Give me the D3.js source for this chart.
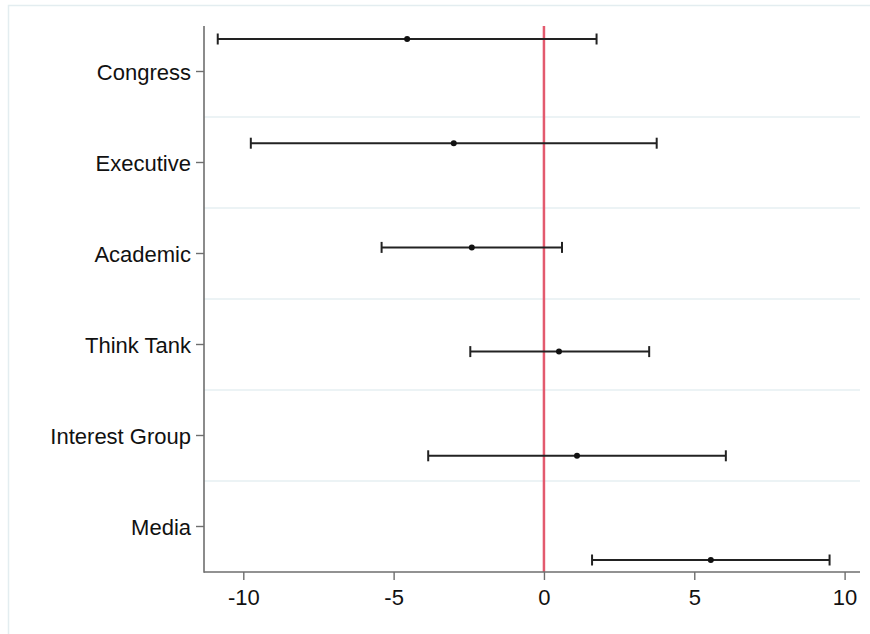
<!DOCTYPE html>
<html>
<head>
<meta charset="utf-8">
<script src="https://cdn.jsdelivr.net/npm/d3@7"></script>
<style>
  body { margin: 0; background: #fff; }
  text { font-family: "Liberation Sans", Arial, Helvetica, sans-serif; fill: #111; }
</style>
</head>
<body>
<div id="chart"></div>
<script>
var width  = 870,
    height = 634;

// coefficient estimates with 95% intervals
var categories = ["Congress", "Executive", "Academic", "Think Tank", "Interest Group", "Media"];
var estimates  = [-4.55, -3.0, -2.4, 0.5, 1.1, 5.55];
var lower      = [-10.85, -9.75, -5.4, -2.45, -3.85, 1.6];
var upper      = [1.75, 3.75, 0.6, 3.5, 6.05, 9.5];
var xTicks     = [-10, -5, 0, 5, 10];

var rows = categories.map(function(c, i) {
    return { name: c, est: estimates[i], lo: lower[i], hi: upper[i] };
});

var plotLeft = 204, plotRight = 860, plotTop = 26, plotBottom = 572;

var x = d3.scaleLinear()
    .domain([-10, 10])
    .range([243.3, 844.6]);

var yBand = d3.scaleBand()
    .domain(categories)
    .range([plotTop, plotBottom])
    .padding(0);

var yPoint = d3.scalePoint()
    .domain(categories)
    .range([plotTop + 13, plotBottom - 12]);

var svg = d3.select("#chart")
    .append("svg")
    .attr("width", width)
    .attr("height", height);

// outer graph frame
svg.append("rect")
    .attr("x", 8.5)
    .attr("y", 5.5)
    .attr("width", 900)
    .attr("height", 700)
    .attr("fill", "none")
    .attr("stroke", "#e3edf0")
    .attr("stroke-width", 1.5);

// separators between categories
svg.append("g").selectAll("line")
    .data(categories.slice(1))
    .enter().append("line")
    .attr("x1", plotLeft)
    .attr("x2", plotRight)
    .attr("y1", function(d) { return yBand(d); })
    .attr("y2", function(d) { return yBand(d); })
    .attr("stroke", "#e6eff2")
    .attr("stroke-width", 1.5);

// reference line at zero
svg.append("line")
    .attr("x1", x(0))
    .attr("x2", x(0))
    .attr("y1", plotTop)
    .attr("y2", plotBottom)
    .attr("stroke", "#e35a6e")
    .attr("stroke-width", 2.5);

// x axis
var xAxis = d3.axisBottom(x)
    .tickValues(xTicks)
    .tickSize(8)
    .tickPadding(9)
    .tickFormat(d3.format("d"));

var gx = svg.append("g")
    .attr("transform", "translate(0," + plotBottom + ")")
    .call(xAxis);
gx.select(".domain").remove();
gx.append("line")
    .attr("x1", plotLeft)
    .attr("x2", plotRight)
    .attr("stroke", "#6e6e6e")
    .attr("stroke-width", 1.6);
gx.selectAll(".tick line").attr("stroke", "#6e6e6e").attr("stroke-width", 1.4);
gx.selectAll(".tick text")
    .style("font-size", "22px")
    .attr("fill", "#111")
    .text(function(d) { return d < 0 ? "-" + Math.abs(d) : d; });

// y axis
var yAxis = d3.axisLeft(yBand)
    .tickSize(8)
    .tickPadding(5);

var gy = svg.append("g")
    .attr("transform", "translate(" + plotLeft + ",0)")
    .call(yAxis);
gy.select(".domain").remove();
gy.append("line")
    .attr("y1", plotTop)
    .attr("y2", plotBottom + 0.8)
    .attr("stroke", "#6e6e6e")
    .attr("stroke-width", 1.6);
gy.selectAll(".tick line").attr("stroke", "#6e6e6e").attr("stroke-width", 1.4);
gy.selectAll(".tick text")
    .style("font-size", "22px")
    .attr("dy", "0.4em")
    .attr("fill", "#111");

// error bars
var bars = svg.append("g").selectAll("g")
    .data(rows)
    .enter().append("g")
    .attr("transform", function(d) { return "translate(0," + yPoint(d.name) + ")"; });

bars.append("line")
    .attr("x1", function(d) { return x(d.lo); })
    .attr("x2", function(d) { return x(d.hi); })
    .attr("stroke", "#222")
    .attr("stroke-width", 2);

bars.selectAll(".cap")
    .data(function(d) { return [d.lo, d.hi]; })
    .enter().append("line")
    .attr("class", "cap")
    .attr("x1", function(d) { return x(d); })
    .attr("x2", function(d) { return x(d); })
    .attr("y1", -5.5)
    .attr("y2", 5.5)
    .attr("stroke", "#222")
    .attr("stroke-width", 2);

bars.append("circle")
    .attr("cx", function(d) { return x(d.est); })
    .attr("r", 3)
    .attr("fill", "#111");
</script>
</body>
</html>
